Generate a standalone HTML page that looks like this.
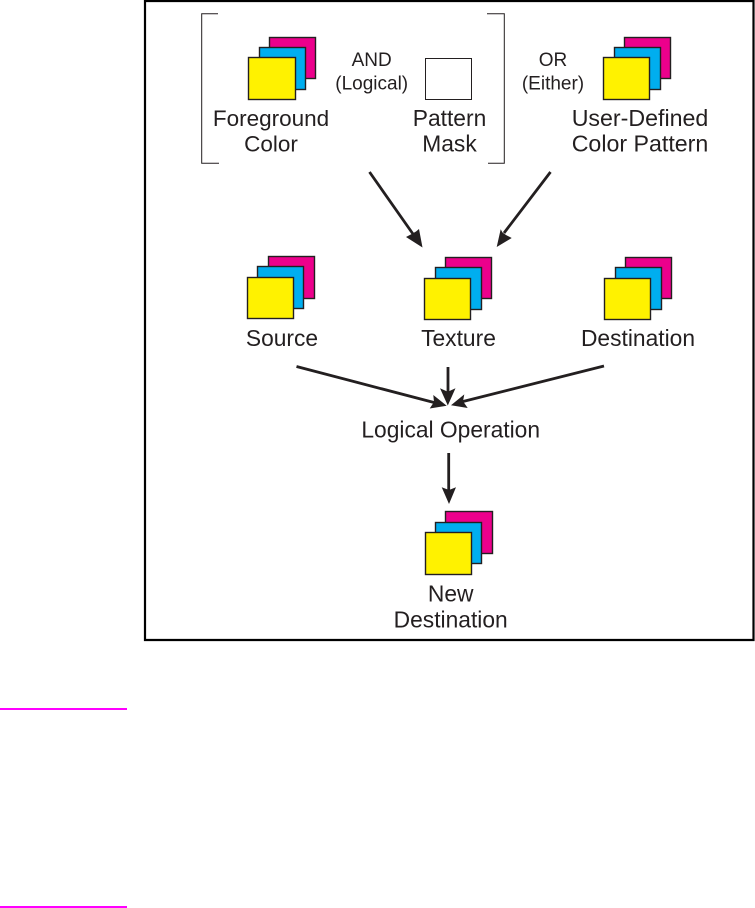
<!DOCTYPE html>
<html><head><meta charset="utf-8"><style>
html,body{margin:0;padding:0;background:#fff}
svg{display:block}
text{font-family:"Liberation Sans",sans-serif;fill:#231f20;text-anchor:middle}
.l{font-size:22.8px}.s{font-size:19px}
.m{fill:#ec008c}.c{fill:#00aeef}.y{fill:#fff200}
.st{stroke:#231f20;stroke-width:1.4}
</style></head><body>
<svg width="755" height="908" viewBox="0 0 755 908" xmlns="http://www.w3.org/2000/svg">
<!-- frame -->
<path d="M145 1H753.500V640H145Z" fill="none" stroke="#000" stroke-width="2.200"/>
<rect x="0" y="708" width="127" height="2" fill="#ff00ff"/>
<rect x="0" y="906" width="127" height="2" fill="#ff00ff"/>
<!-- brackets -->
<path d="M218 13.700H201.700V163.300H219M487 13.700H504.300V163.300H488" fill="none" stroke="#231f20" stroke-width="1"/>
<!-- stacks -->
<g class="st">
<rect class="m" x="269.500" y="37.500" width="46" height="41"/><rect class="c" x="259.500" y="47.500" width="46" height="42"/><rect class="y" x="248.500" y="57.500" width="47" height="42"/>
<rect class="m" x="624.500" y="37.500" width="46" height="41"/><rect class="c" x="614.500" y="47.500" width="46" height="42"/><rect class="y" x="603.500" y="57.500" width="46" height="42"/>
<rect class="m" x="268.500" y="256.500" width="46" height="42"/><rect class="c" x="257.500" y="266.500" width="46" height="42"/><rect class="y" x="247.500" y="277.500" width="46" height="41"/>
<rect class="m" x="445.500" y="257.500" width="46" height="41"/><rect class="c" x="435.500" y="267.500" width="46" height="42"/><rect class="y" x="424.500" y="278.500" width="46" height="41"/>
<rect class="m" x="625.500" y="257.500" width="46" height="41"/><rect class="c" x="615.500" y="267.500" width="46" height="42"/><rect class="y" x="604.500" y="278.500" width="46" height="41"/>
<rect class="m" x="445.500" y="511.500" width="47" height="42"/><rect class="c" x="435.500" y="522.500" width="46" height="41"/><rect class="y" x="425.500" y="532.500" width="46" height="42"/>
</g>
<rect x="425.500" y="58.500" width="46" height="41" fill="#fff" stroke="#231f20" stroke-width="1"/>
<!-- arrows -->
<g stroke="#231f20" stroke-width="2.800" fill="none">
<path d="M369.500 172L413 234M550.500 172L504 233M296.500 366.500L434 402.500M448 367V393M604 366L463 401.500M448.700 453V492"/>
</g>
<g fill="#231f20">
<path d="M422.500 247.500L406 237L411.700 234L416 231.500L419 229Z"/>
<path d="M496.700 247L511.700 238L506 235L502.500 232.500L500.700 229.300Z"/>
<path d="M446.700 405.700L429.700 408.500L434 402L433.300 395Z"/>
<path d="M447.800 405.500L440 388.300L447.800 391.700L455.500 388.300Z"/>
<path d="M451 405.200L467.700 408L463 401.300L464.300 394.400Z"/>
<path d="M449 504L441.700 487.300L449 490L456 487.300Z"/>
</g>
<!-- labels -->
<text class="l" style="font-size:22.500px" x="271" y="126">Foreground</text>
<text class="l" style="font-size:22.500px" x="271" y="151.700">Color</text>
<text class="s" x="371.700" y="66">AND</text>
<text class="s" x="371.700" y="89.500">(Logical)</text>
<text class="l" x="449.500" y="126">Pattern</text>
<text class="l" x="449.500" y="151.700">Mask</text>
<text class="s" x="553" y="66">OR</text>
<text class="s" x="553" y="89.500">(Either)</text>
<text class="l" x="640" y="126" style="font-size:23.200px">User-Defined</text>
<text class="l" x="640" y="151.700" style="font-size:23.200px">Color Pattern</text>
<text class="l" x="282" y="346">Source</text>
<text class="l" x="458.500" y="346">Texture</text>
<text class="l" x="638" y="346">Destination</text>
<text class="l" x="450.700" y="437.300">Logical Operation</text>
<text class="l" x="450.700" y="601.700">New</text>
<text class="l" x="450.700" y="627.700">Destination</text>
</svg>
</body></html>
